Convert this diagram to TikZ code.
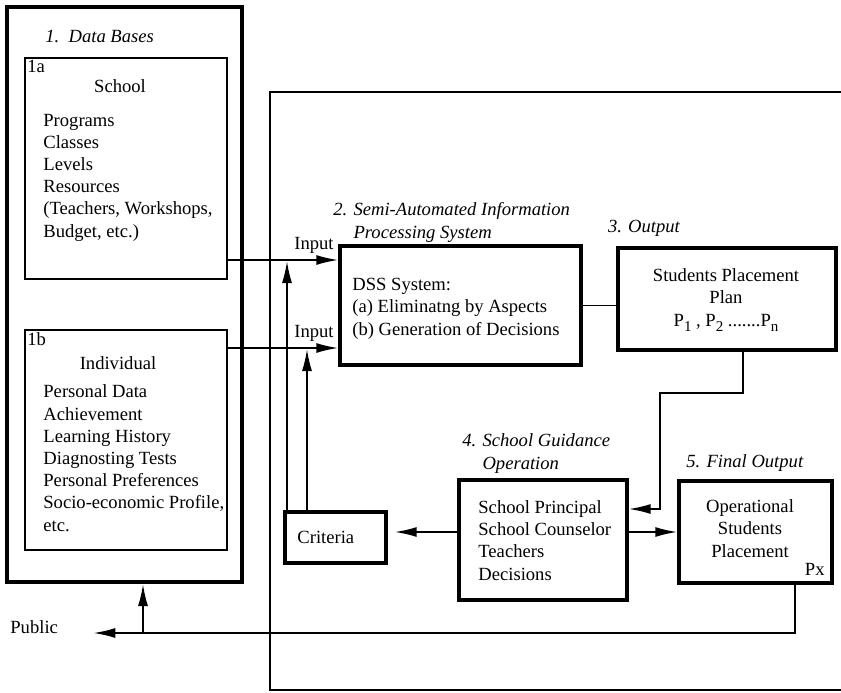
\documentclass[tikz,border=0pt]{standalone}
\usepackage{fontspec}
\setmainfont{Liberation Serif}
\usetikzlibrary{positioning,fit,arrows.meta}
\newcommand{\sbs}[1]{\raisebox{-2.5pt}{\fontsize{7.5pt}{8pt}\selectfont #1}}

\begin{document}
\begin{tikzpicture}[x=0.5pt, y=-0.5pt, >={Latex[length=11pt,width=5pt]},
        font=\fontsize{9.3pt}{11.1pt}\selectfont,
        dbframe/.style = {draw, line width=2pt, inner sep=0pt},
        listbox/.style = {draw, line width=1pt, inner sep=0pt},
        main/.style = {draw, line width=1.7pt, inner sep=0pt},
        txt/.style = {inner sep=0pt, align=left},
        head/.style = {txt, font=\fontsize{9.3pt}{11.1pt}\selectfont\itshape},
        conn/.style = {line width=0.9pt},
        frame/.style = {line width=0.7pt}]
    \useasboundingbox (0,0) rectangle (841,692);
    % boxes
    \node[dbframe, fit={(7,7) (242,582)}] (1) {};
    \node[listbox, fit={(25,58) (227,279)}] (1a) {};
    \node[listbox, fit={(25,330) (227,550)}] (1b) {};
    \node[main, fit={(340,246) (581,365)}] (2) {};
    \node[main, fit={(618,248) (836,350)}] (3) {};
    \node[main, fit={(459,480) (627,600)}] (4) {};
    \node[main, fit={(679,481) (832,583)}] (5) {};
    \node[main, fit={(285,512) (386,563)}] (crit) {};
    \draw[frame] (841,92) -| (270,690) -- (841,690);
    % texts (multi-line ones sit on their last baseline)
    \node[head, anchor=base west] (h1) at (45,42) {1.\ \ Data Bases};
    \node[anchor=north west, inner sep=1.5pt] (n1a) at (1a.north west) {1a};
    \node[txt, anchor=base] (t1a) at (120,92) {School};
    \node[txt, anchor=base west] (l1a) at (43,237) {Programs\\Classes\\Levels\\Resources\\(Teachers, Workshops,\\Budget, etc.)};
    \node[anchor=north west, inner sep=1.5pt] (n1b) at (1b.north west) {1b};
    \node[txt, anchor=base] (t1b) at (118,369) {Individual};
    \node[txt, anchor=base west] (l1b) at (43,531) {Personal Data\\Achievement\\Learning History\\Diagnosting Tests\\Personal Preferences\\Socio-economic Profile,\\etc.};
    \node[txt, anchor=base] (inp1) at (314,249) {Input};
    \node[txt, anchor=base] (inp2) at (314,337) {Input};
    \node[head, anchor=base west] (h2) at (333,238) {2. Semi-Automated Information\\\phantom{2. }Processing System};
    \node[txt, anchor=base west] (l2) at (352,335) {DSS System:\\(a) Eliminatng by Aspects\\(b) Generation of Decisions};
    \node[head, anchor=base] (h3) at (644,232) {3. Output};
    \node[txt, align=center, anchor=base] (l3) at (726,326) {Students Placement\\Plan\\ P\sbs{1} , P\sbs{2} .......P\sbs{n}};
    \node[head, anchor=base west] (h4) at (462,469) {4. School Guidance\\\phantom{4. }Operation};
    \node[txt, anchor=base west] (l4) at (478,580) {School Principal\\School Counselor\\Teachers\\Decisions};
    \node[txt, anchor=base west] (lc) at (297,543) {Criteria};
    \node[head, anchor=base west] (h5) at (686,467) {5. Final Output};
    \node[txt, align=center, anchor=base] (l5) at (750,557) {Operational\\Students\\Placement};
    \node[txt, anchor=base east] (px) at (825,575) {Px};
    \node[txt, anchor=base west] (pub) at (10,633) {Public};
    % connectors
    \coordinate (in1) at (0,260);
    \coordinate (in2) at (0,348);
    \coordinate (c1) at (287,261);
    \coordinate (c2) at (307,349);
    \coordinate (k1) at (743,393);
    \coordinate (k2) at (660,509);
    \coordinate (lvl) at (0,532);
    \coordinate (k3) at (795,633);
    \coordinate (tee) at (143,633);
    \draw[conn,->] (1a.east |- in1) -- (2.west |- in1);
    \draw[conn,->] (1b.east |- in2) -- (2.west |- in2);
    \draw[conn,->] (crit.north -| c1) -- (c1);
    \draw[conn,->] (crit.north -| c2) -- (c2);
    \draw[conn] (2.east) -- (3.west |- 2.east);
    \draw[conn,->] (3.south -| k1) -- (k1) -| (k2) -- (4.east |- k2);
    \draw[conn,->,shorten >=3.5pt] (4.west |- lvl) -- (crit.east |- lvl);
    \draw[conn,->] (4.east |- lvl) -- (5.west |- lvl);
    \draw[conn,->,shorten >=17.5pt] (5.south -| k3) |- (pub.base east);
    \draw[conn,->] (tee) -- (1.south -| tee);
\end{tikzpicture}
\end{document}
